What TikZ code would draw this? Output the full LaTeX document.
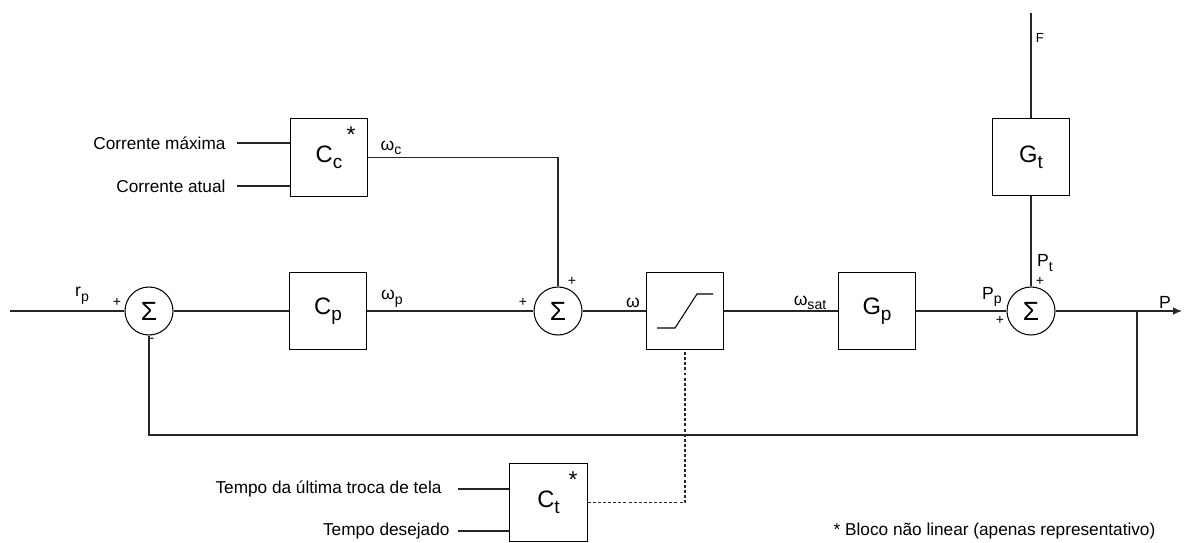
\documentclass[tikz,border=0pt]{standalone}
\usepackage{fontspec}
\setmainfont{Liberation Sans}
\usetikzlibrary{arrows.meta}

\newcommand{\idx}[1]{\raisebox{-.5ex}{\scalebox{.8}{#1}}}

\begin{document}
\begin{tikzpicture}[line width=.6pt,
  block/.style={rectangle,draw=black,minimum size=15.5mm,inner sep=0pt,font=\fontsize{13.5}{15}\selectfont},
  summ/.style={circle,draw=black,minimum size=9.6mm,inner sep=0pt,font=\fontsize{15}{17}\selectfont},
  lbl/.style={inner sep=0pt,font=\fontsize{10}{12}\selectfont},
  sgn/.style={inner sep=0pt,font=\fontsize{8}{9}\selectfont},
  star/.style={inner sep=0pt,font=\fontsize{13}{15}\selectfont},
  txt/.style={anchor=east,inner sep=0pt,font=\fontsize{9.8}{12}\selectfont},
  every edge/.style={draw=black!85,line width=.6pt}]
  \useasboundingbox (0,0) rectangle (23.68,-10.86);
  % main loop
  \node[summ]  (s1)  at ( 2.98,-6.22) {Σ};
  \node[block] (cp)  at ( 6.56,-6.22) {C\idx{p}};
  \node[summ]  (s2)  at (11.16,-6.22) {Σ};
  \node[block] (sat) at (13.70,-6.22) {};
  \node[block] (gp)  at (17.54,-6.22) {G\idx{p}};
  \node[summ]  (s3)  at (20.62,-6.22) {Σ};
  \node[block] (gt)  at (20.62,-3.14) {G\idx{t}};
  \node[block] (cc)  at ( 6.58,-3.15) {C\idx{c}};
  \node[block] (ct)  at (10.97,-10.05) {C\idx{t}};
  \coordinate (rin)  at ( 0.20,-6.22);
  \coordinate (pout) at (23.64,-6.22);
  \coordinate (br)   at (22.74,-6.22);
  \coordinate (fb)   at (22.74,-8.70);
  \coordinate (fin)  at (20.62,-0.26);
  % saturation curve
  \draw ([shift={(-0.56,-0.34)}]sat.center) -- ++(0.36,0) -- ++(0.44,0.68) -- ++(0.32,0);
  % outer inputs
  \node[txt] (imax) at (4.52,-2.86) {Corrente máxima};
  \node[txt] (iat)  at (4.52,-3.72) {Corrente atual};
  \node[txt] (tult) at (8.84,-9.78) {Tempo da última troca de tela};
  \node[txt] (tdes) at (9.00,-10.62) {Tempo desejado};
  \draw (4.74,-2.86) coordinate (a1) (a1) edge (a1 -| cc.west);
  \draw (4.74,-3.72) coordinate (a2) (a2) edge (a2 -| cc.west);
  \draw (9.16,-9.78) coordinate (a3) (a3) edge (a3 -| ct.west);
  \draw (9.16,-10.62) coordinate (a4) (a4) edge (a4 -| ct.west);
  % connectors
  \foreach \u/\v in {rin/s1,s1/cp,cp/s2,s2/sat,sat/gp,gp/s3,fin/gt,gt/s3}
    \draw[draw=black!85] (\u) -- (\v);
  \draw[draw=black!85,-{Latex[length=1.8mm,width=1.5mm]}] (s3) -- (pout);
  \draw[draw=black!85] (br) -- (fb) -| (s1.south);
  \draw[draw=black!85] (cc.east) -| (s2.north);
  \draw[draw=black!85,dash pattern=on 1.7pt off 1.2pt] (ct.east) -| (sat.south);
  % labels
  \node[lbl] (lrp)  at ( 1.64,-5.92) {r\idx{p}};
  \node[lbl] (lwp)  at ( 7.84,-5.98) {ω\idx{p}};
  \node[lbl] (lwc)  at ( 7.82,-2.96) {ω\idx{c}};
  \node[lbl] (lw)   at (12.66,-6.06) {ω};
  \node[lbl] (lws)  at (16.20,-6.06) {ω\idx{sat}};
  \node[lbl] (lpp)  at (19.84,-5.94) {P\idx{p}};
  \node[lbl] (lpt)  at (20.90,-5.26) {P\idx{t}};
  \node[lbl] (lp)   at (23.30,-6.04) {P};
  \node[lbl,font=\fontsize{7.5}{9}\selectfont] (lf) at (20.80,-0.76) {F};
  \node[sgn] (g1) at ( 2.34,-6.04) {+};
  \node[sgn] (g2) at ( 3.04,-6.80) {-};
  \node[sgn] (g3) at (10.46,-6.04) {+};
  \node[sgn] (g4) at (11.44,-5.62) {+};
  \node[sgn] (g5) at (20.00,-6.40) {+};
  \node[sgn] (g6) at (20.80,-5.62) {+};
  \node[star] (stc) at ( 7.02,-2.70) {*};
  \node[star] (stt) at (11.46,-9.60) {*};
  \node[font=\fontsize{9.8}{12}\selectfont,inner sep=0pt] (note) at (19.89,-10.62) {* Bloco não linear (apenas representativo)};
\end{tikzpicture}
\end{document}
